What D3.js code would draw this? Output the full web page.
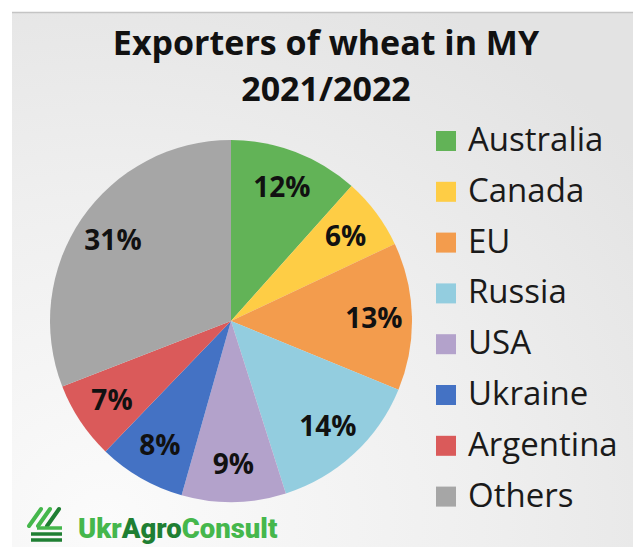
<!DOCTYPE html>
<html>
<head>
<meta charset="utf-8">
<script src="https://cdn.jsdelivr.net/npm/d3@7"></script>
<style>
  html, body { margin: 0; padding: 0; background: #ffffff; }
  svg { display: block; }
</style>
</head>
<body>
<svg id="chart" width="633" height="547"></svg>
<script>
// ---- data ----
const categories = ["Australia", "Canada", "EU", "Russia", "USA", "Ukraine", "Argentina", "Others"];
const shares = [11.6, 6.4, 13.2, 13.9, 9.3, 7.8, 6.9, 30.9];
const colors = ["#62b357", "#fecd45", "#f39c4d", "#93cddf", "#b3a2cb", "#4472c4", "#da5a5a", "#a6a6a6"];
const titleLines = ["Exporters of wheat in MY", "2021/2022"];
const brandParts = [["Ukr", "#45b74c"], ["Agro", "#1f7f33"], ["Consult", "#45b74c"]];

const W = 633, H = 547;
const svg = d3.select("#chart");

// background panel with soft gradient
const defs = svg.append("defs");
const grad = defs.append("radialGradient").attr("id", "bg")
  .attr("cx", "0.15").attr("cy", "0.95").attr("r", "1.1");
grad.append("stop").attr("offset", "0").attr("stop-color", "#fbfbfb");
grad.append("stop").attr("offset", "0.55").attr("stop-color", "#efefef");
grad.append("stop").attr("offset", "1").attr("stop-color", "#e3e3e3");

svg.append("rect").attr("x", 12).attr("y", 12).attr("width", W - 12).attr("height", H - 12)
  .attr("fill", "url(#bg)");
svg.append("line").attr("x1", 12).attr("x2", W).attr("y1", 12.5).attr("y2", 12.5)
  .attr("stroke", "#c4c4c4").attr("stroke-width", 1.5);

// title
const title = svg.append("text")
  .attr("text-anchor", "middle")
  .attr("font-family", "'Open Sans', sans-serif")
  .attr("font-weight", 700)
  .attr("font-size", 34)
  .attr("fill", "#111");
title.selectAll("tspan").data(titleLines).join("tspan")
  .attr("x", 326)
  .attr("y", (d, i) => 55 + i * 46)
  .text(d => d);

// pie
const cx = 231, cy = 321, R = 181;
const pie = d3.pie().sort(null).value(d => d.v);
const arcs = pie(categories.map((c, i) => ({ c, v: shares[i], col: colors[i] })));
const arc = d3.arc().innerRadius(0).outerRadius(R);
const labelArc = d3.arc().innerRadius(143).outerRadius(143);

const g = svg.append("g").attr("transform", `translate(${cx},${cy})`);
g.selectAll("path").data(arcs).join("path")
  .attr("d", arc)
  .attr("fill", d => d.data.col);

g.selectAll("text").data(arcs).join("text")
  .attr("transform", d => `translate(${labelArc.centroid(d)})`)
  .attr("text-anchor", "middle")
  .attr("dy", "0.36em")
  .attr("font-family", "'Open Sans', sans-serif")
  .attr("font-weight", 700)
  .attr("font-size", 28)
  .attr("fill", "#111")
  .text(d => Math.round(d.data.v) + "%");

// legend
const y = d3.scalePoint().domain(categories).range([151, 506.6]);
const lg = svg.append("g");
const items = lg.selectAll("g").data(categories).join("g")
  .attr("transform", d => `translate(436,${y(d)})`);
items.append("rect")
  .attr("x", 0).attr("y", -20).attr("width", 20).attr("height", 20)
  .attr("fill", (d, i) => colors[i]);
items.append("text")
  .attr("x", 32).attr("y", 0)
  .attr("font-family", "'Open Sans', sans-serif")
  .attr("font-size", 33)
  .attr("fill", "#1a1a1a")
  .text(d => d);

// brand logo
const logo = svg.append("g").attr("transform", "translate(27,507)");
[[0, "#45b74c"], [9, "#45b74c"], [18, "#1f7f33"]].forEach(([dx, c]) => {
  logo.append("line").attr("x1", 2 + dx).attr("y1", 19).attr("x2", 14 + dx).attr("y2", 2)
    .attr("stroke", c).attr("stroke-width", 4).attr("stroke-linecap", "round");
});
[[21, "#45b74c"], [27, "#1f7f33"], [33, "#1f7f33"]].forEach(([yy, c], i) => {
  logo.append("line").attr("x1", 4 + (i === 0 ? 6 : 0)).attr("x2", 35).attr("y1", yy).attr("y2", yy)
    .attr("stroke", c).attr("stroke-width", 3.5);
});
const brand = svg.append("text")
  .attr("x", 78).attr("y", 538)
  .attr("font-family", "Roboto, sans-serif")
  .attr("font-weight", 900)
  .attr("font-size", 27.5);
brand.selectAll("tspan").data(brandParts).join("tspan")
  .attr("fill", d => d[1])
  .text(d => d[0]);
</script>
</body>
</html>
